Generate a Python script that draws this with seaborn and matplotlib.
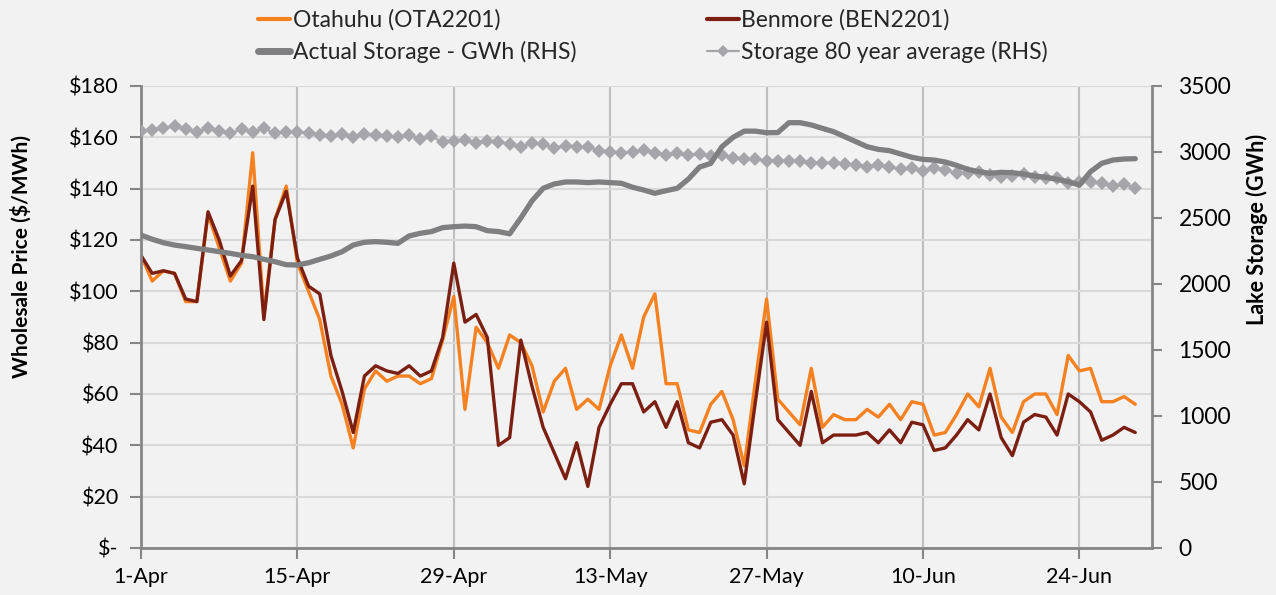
import pandas as pd
import matplotlib.pyplot as plt
import matplotlib.ticker as mticker
import matplotlib.dates as mdates
from matplotlib.lines import Line2D
import seaborn as sns

# Daily values, 1-Apr to 29-Jun
dates = pd.date_range("2014-04-01", periods=90, freq="D")

otahuhu = [114, 104, 108, 107, 96, 96, 130, 117, 104, 111, 154, 91, 128, 141, 111,
           100, 89, 67, 56, 39, 62, 69, 65, 67, 67, 64, 66, 81, 98,
           54, 86, 80, 70, 83, 80, 71, 53, 65, 70, 54, 58, 54, 71,
           83, 70, 90, 99, 64, 64, 46, 45, 56, 61, 50, 32, 65, 97,
           58, 53, 48, 70, 47, 52, 50, 50, 54, 51, 56, 50, 57, 56,
           44, 45, 52, 60, 55, 70, 51, 45, 57, 60, 60, 52, 75, 69,
           70, 57, 57, 59, 56]

benmore = [114, 107, 108, 107, 97, 96, 131, 120, 106, 112, 141, 89, 128, 139, 113,
           102, 99, 75, 61, 45, 67, 71, 69, 68, 71, 67, 69, 82, 111,
           88, 91, 82, 40, 43, 81, 63, 47, 37, 27, 41, 24, 47, 56,
           64, 64, 53, 57, 47, 57, 41, 39, 49, 50, 44, 25, 57, 88,
           50, 45, 40, 61, 41, 44, 44, 44, 45, 41, 46, 41, 49, 48,
           38, 39, 44, 50, 46, 60, 43, 36, 49, 52, 51, 44, 60, 57,
           53, 42, 44, 47, 45]

storage_actual = [2371, 2339, 2313, 2295, 2283, 2270, 2258, 2245, 2232, 2217, 2207, 2187, 2169, 2146, 2144,
                  2161, 2187, 2212, 2245, 2295, 2316, 2321, 2316, 2308, 2364, 2384, 2397, 2427, 2434,
                  2439, 2434, 2404, 2397, 2380, 2500, 2630, 2725, 2758, 2773, 2773, 2768, 2773, 2768,
                  2763, 2733, 2712, 2687, 2707, 2725, 2795, 2886, 2914, 3040, 3111, 3158, 3158, 3146,
                  3147, 3222, 3222, 3205, 3179, 3154, 3116, 3078, 3040, 3020, 3010, 2985, 2960, 2944,
                  2939, 2924, 2899, 2869, 2851, 2838, 2846, 2843, 2833, 2818, 2808, 2793, 2775, 2750,
                  2851, 2914, 2939, 2947, 2949]

storage_avg = [3162, 3167, 3179, 3197, 3172, 3154, 3179, 3162, 3142, 3172, 3154, 3179, 3142, 3154, 3149,
               3142, 3129, 3124, 3134, 3111, 3136, 3129, 3121, 3116, 3129, 3100, 3118, 3075, 3086,
               3091, 3071, 3086, 3078, 3058, 3040, 3066, 3058, 3033, 3048, 3035, 3040, 3010, 3002,
               2995, 3002, 3015, 2995, 2977, 2990, 2977, 2985, 2970, 2977, 2952, 2944, 2944, 2935,
               2934, 2934, 2934, 2919, 2919, 2919, 2909, 2899, 2889, 2901, 2886, 2869, 2878, 2856,
               2876, 2864, 2838, 2843, 2846, 2826, 2813, 2816, 2832, 2813, 2801, 2801, 2768, 2775,
               2770, 2768, 2742, 2755, 2730]

price_ticks = list(range(0, 181, 20))
storage_ticks = list(range(0, 3501, 500))

df = pd.DataFrame({"date": dates, "ota": otahuhu, "ben": benmore,
                   "actual": storage_actual, "avg": storage_avg})

sns.set_theme(style="white")
plt.rcParams['font.family'] = ['Lato', 'DejaVu Sans']

bg = "#f2f2f2"
axis_grey = "#868686"
c_ota = "#f68121"
c_ben = "#7a1f12"
c_act = "#7f7f82"
c_avg = "#a6a6aa"

fig = plt.figure(figsize=(12.76, 5.95), dpi=100, facecolor=bg)
ax = fig.add_axes([141 / 1276, 47 / 595, 1011 / 1276, 462 / 595])
ax.set_facecolor(bg)
ax2 = ax.twinx()
ax2.patch.set_visible(False)

sns.lineplot(data=df, x="date", y="ota", ax=ax, color=c_ota, lw=2.4)
sns.lineplot(data=df, x="date", y="ben", ax=ax, color=c_ben, lw=2.4)
sns.lineplot(data=df, x="date", y="avg", ax=ax2, color=c_avg, lw=1.6,
             marker="D", markersize=7.5, markeredgewidth=0)
sns.lineplot(data=df, x="date", y="actual", ax=ax2, color=c_act, lw=3.8,
             solid_capstyle="round")

# axes ranges and ticks
x0 = dates[0]
ax.set_xlim(x0, x0 + pd.Timedelta(days=90.5))
ax.set_ylim(0, 180)
ax2.set_ylim(0, 3500)
ax.set_yticks(price_ticks)
ax2.set_yticks(storage_ticks)
ax.yaxis.set_major_formatter(mticker.FuncFormatter(lambda v, p: "$-" if v == 0 else f"${v:.0f}"))
ax.set_xticks(pd.date_range(x0, periods=7, freq="14D"))
ax.xaxis.set_major_formatter(mdates.DateFormatter("%-d-%b"))

ax.grid(axis="y", color="#d9d9d9", lw=1.5)
ax.grid(axis="x", color="#bfbfbf", lw=1.5)
ax.set_axisbelow(True)
ax2.grid(False)

for a in (ax, ax2):
    for s in a.spines.values():
        s.set_visible(False)
ax.spines["left"].set_visible(True)
ax.spines["bottom"].set_visible(True)
ax2.spines["right"].set_visible(True)
for s in (ax.spines["left"], ax.spines["bottom"], ax2.spines["right"]):
    s.set_color(axis_grey)
    s.set_linewidth(2)

ax.tick_params(axis="y", length=8, width=1.5, color=axis_grey, labelsize=15.5,
               labelcolor="black", direction="out", left=True, pad=8)
ax.tick_params(axis="x", length=8, width=1.5, color=axis_grey, labelsize=15.5,
               labelcolor="black", direction="out", bottom=True, pad=6)
ax2.tick_params(axis="y", length=7, width=1.5, color=axis_grey, labelsize=16.5,
                labelcolor="black", direction="out", right=True, pad=12)

ax.set_xlabel("")
ax.set_ylabel("Wholesale Price ($/MWh)", fontsize=15, fontweight="bold", color="black")
ax2.set_ylabel("Lake Storage (GWh)", fontsize=15.5, fontweight="bold", color="black")
ax.yaxis.set_label_coords(-0.108, 0.63)
ax2.yaxis.set_label_coords(1.093, 0.69)

handles = [
    Line2D([], [], color=c_ota, lw=3),
    Line2D([], [], color=c_act, lw=5),
    Line2D([], [], color=c_ben, lw=3),
    Line2D([], [], color=c_avg, lw=1.6, marker="D", markersize=6, markeredgewidth=0),
]
labels = ["Otahuhu (OTA2201)", "Actual Storage - GWh (RHS)",
          "Benmore (BEN2201)", "Storage 80 year average (RHS)"]
fig.legend(handles, labels, loc="upper left", bbox_to_anchor=(240 / 1276, 1.015),
           ncol=2, frameon=False, fontsize=16.5, handlelength=1.4, handletextpad=0.1,
           columnspacing=5.7, labelspacing=0.45, borderpad=0.3)

fig.savefig("out.png", dpi=100, facecolor=bg)
